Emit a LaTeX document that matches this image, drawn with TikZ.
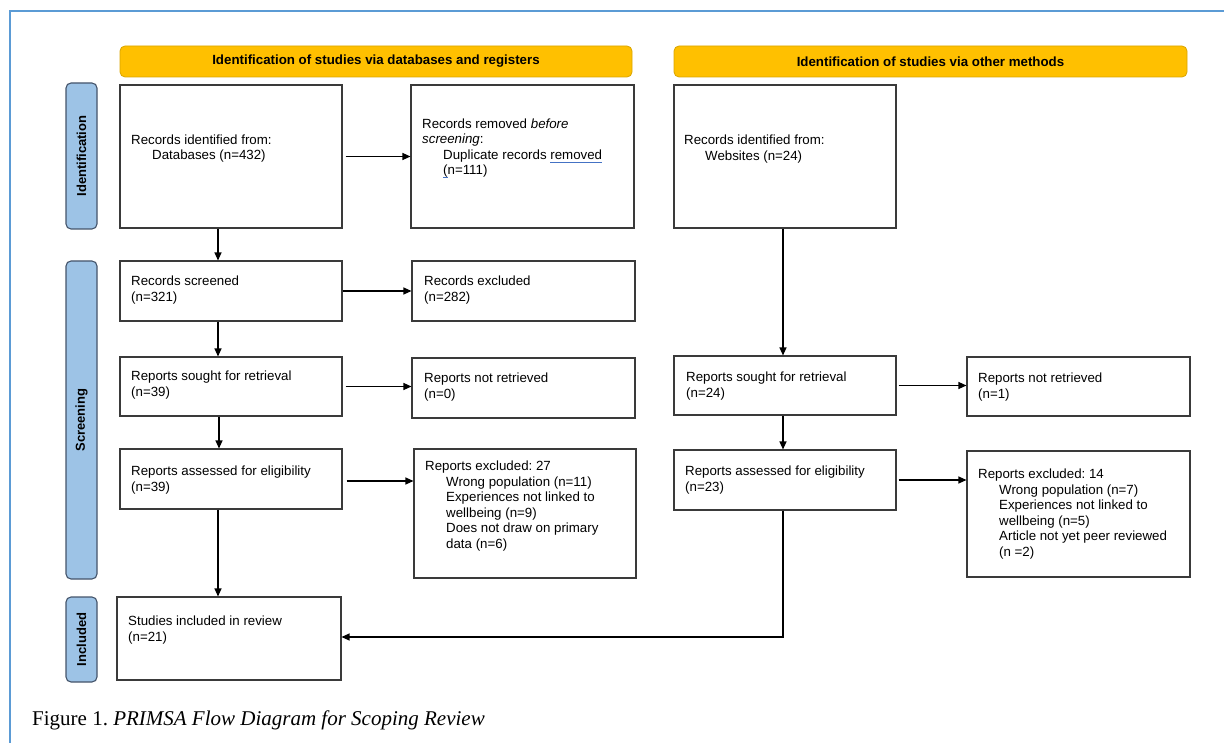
\documentclass[tikz,border=0pt]{standalone}
\usepackage{fontspec}
\setmainfont{Liberation Sans}
\newfontfamily\capfont{Liberation Serif}
\usetikzlibrary{arrows.meta}
\definecolor{hdr}{HTML}{FFC000}
\definecolor{hdrline}{HTML}{D9A400}
\definecolor{side}{HTML}{9DC3E6}
\definecolor{sideline}{HTML}{44546A}
\definecolor{frame}{HTML}{5B9BD5}
\definecolor{uline}{HTML}{4472C4}
\definecolor{boxline}{HTML}{3A3A3A}
\newcommand{\ind}{\hspace*{21pt}}
\newcommand{\squig}[1]{\setbox0\hbox{#1}\rlap{\color{uline}\rule[-3.5pt]{\wd0}{1pt}}\box0}
\frenchspacing
\begin{document}
\begin{tikzpicture}[x=1pt,y=-1pt,
  every node/.style={font=\fontsize{13.3}{15.5}\selectfont},
  box/.style={draw=boxline, line width=1.1pt, inner sep=0pt, fill=white},
  txt/.style={anchor=west, align=left, inner sep=0pt},
  hdrbox/.style={draw=hdrline, fill=hdr, rounded corners=5pt, line width=0.8pt, inner sep=0pt, minimum height=31pt, font=\fontsize{13.3}{15.5}\selectfont\bfseries},
  sidebox/.style={draw=sideline, fill=side, rounded corners=5pt, line width=1.1pt, inner sep=0pt, rotate=90, minimum height=31pt, font=\fontsize{13}{15}\selectfont\bfseries},
  arr/.style={draw=black, line width=1.2pt, -{Triangle[length=8pt,width=7pt]}}
]
\useasboundingbox (0,0) rectangle (1224,743);
\draw[frame, line width=2pt] (10,743) -- (10,11) -- (1224,11);

% headers
\node[hdrbox, minimum width=512pt] (h1) at (376,61.5) {Identification of studies via databases and registers};
\node[hdrbox, minimum width=513pt] (h2) at (930.5,61.5) {Identification of studies via other methods};

% side labels
\node[sidebox, minimum width=146pt] (s1) at (81.5,156) {Identification};
\node[sidebox, minimum width=318pt] (s2) at (81.5,420) {Screening};
\node[sidebox, minimum width=85pt] (s3) at (81.5,639.5) {Included};

% boxes
\node[box, minimum width=222pt, minimum height=143pt] (A) at (231,156.5) {};
\node[box, minimum width=223pt, minimum height=143pt] (B) at (522.5,156.5) {};
\node[box, minimum width=222pt, minimum height=60pt] (C) at (231,291) {};
\node[box, minimum width=223pt, minimum height=60pt] (D) at (523.5,291) {};
\node[box, minimum width=222pt, minimum height=59pt] (E) at (231,386.5) {};
\node[box, minimum width=223pt, minimum height=60pt] (F) at (523.5,388) {};
\node[box, minimum width=222pt, minimum height=60pt] (G) at (231,479) {};
\node[box, minimum width=222pt, minimum height=129pt] (H) at (525,513.5) {};
\node[box, minimum width=224pt, minimum height=83pt] (I) at (229,638.5) {};
\node[box, minimum width=222pt, minimum height=143pt] (J) at (785,156.5) {};
\node[box, minimum width=222pt, minimum height=59pt] (K) at (785,385.5) {};
\node[box, minimum width=223pt, minimum height=59pt] (L) at (1078.5,386.5) {};
\node[box, minimum width=222pt, minimum height=60pt] (M) at (785,480) {};
\node[box, minimum width=223pt, minimum height=126pt] (N) at (1078.5,514) {};

% texts
\node[txt] (tA) at (131,148.5) {Records identified from:\\\ind Databases (n=432)};
\node[txt] (tB) at (422,148.5) {Records removed \textit{before}\\\textit{screening}:\\\ind Duplicate records \squig{removed}\\\ind \squig{(}n=111)};
\node[txt] (tC) at (131,290) {Records screened\\(n=321)};
\node[txt] (tD) at (424,290) {Records excluded\\(n=282)};
\node[txt] (tE) at (131,385) {Reports sought for retrieval\\(n=39)};
\node[txt] (tF) at (424,387) {Reports not retrieved\\(n=0)};
\node[txt] (tG) at (131,480) {Reports assessed for eligibility\\(n=39)};
\node[txt] (tH) at (425,506) {Reports excluded: 27\\\ind Wrong population (n=11)\\\ind Experiences not linked to\\\ind wellbeing (n=9)\\\ind Does not draw on primary\\\ind data (n=6)};
\node[txt] (tI) at (128,630) {Studies included in review\\(n=21)};
\node[txt] (tJ) at (684,149) {Records identified from:\\\ind Websites (n=24)};
\node[txt] (tK) at (686,386) {Reports sought for retrieval\\(n=24)};
\node[txt] (tL) at (978,387) {Reports not retrieved\\(n=1)};
\node[txt] (tM) at (685,480) {Reports assessed for eligibility\\(n=23)};
\node[txt] (tN) at (978,514) {Reports excluded: 14\\\ind Wrong population (n=7)\\\ind Experiences not linked to\\\ind wellbeing (n=5)\\\ind Article not yet peer reviewed\\\ind (n =2)};

% connectors
\draw[arr] ([xshift=3pt]A.east) -- (A.east -| B.west);
\draw[arr] ([xshift=-13pt]A.south) -- ([xshift=-13pt]C.north);
\draw[arr] (C.east) -- (C.east -| D.west);
\draw[arr] ([xshift=3pt]E.east) -- (E.east -| F.west);
\draw[arr] ([xshift=-13pt]C.south) -- ([xshift=-13pt]E.north);
\draw[arr] ([xshift=-12pt]E.south) -- ([xshift=-12pt]G.north);
\draw[arr] ([xshift=4pt,yshift=-2pt]G.east) -- ([yshift=-2pt]G.east -| H.west);
\draw[arr] ([xshift=-13pt]G.south) -- ([xshift=-13pt]G.south |- I.north);
\draw[arr] ([xshift=-2pt]J.south) -- ([xshift=-2pt]K.north);
\draw[arr] ([xshift=2pt]K.east) -- (K.east -| L.west);
\draw[arr] ([xshift=-2pt]K.south) -- ([xshift=-2pt]K.south |- M.north);
\draw[arr] ([xshift=2pt]M.east) -- (M.east -| N.west);
\draw[arr] ([xshift=-2pt]M.south) |- ([yshift=1.5pt]I.east);

% caption
\node[anchor=west, inner sep=0pt, font=\capfont\fontsize{21}{25}\selectfont] (cap) at (32,720) {Figure 1. \textit{PRIMSA Flow Diagram for Scoping Review}};
\end{tikzpicture}
\end{document}
